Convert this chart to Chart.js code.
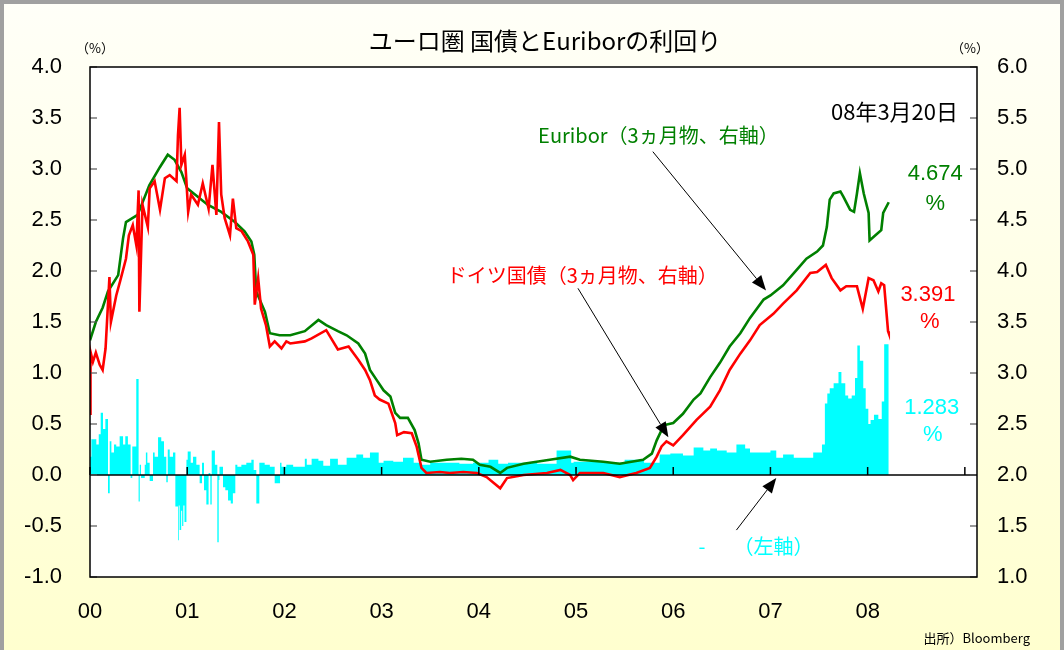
<!DOCTYPE html>
<html lang="ja">
<head>
<meta charset="utf-8">
<script src="https://cdn.jsdelivr.net/npm/chart.js@4/dist/chart.umd.min.js"></script>
<style>
  html, body { margin: 0; padding: 0; }
  #wrap { position: relative; width: 1064px; height: 650px; overflow: hidden;
          background: linear-gradient(#fffff8, #ffffcf); }
  #frame { position: absolute; left: 0; top: 0; width: 1064px; height: 650px; box-sizing: border-box;
           border: 4px solid #a0a0a0; border-bottom: 0; pointer-events: none; }
  canvas { position: absolute; left: 0; top: 0; }
</style>
</head>
<body>
<div id="wrap">
  <canvas id="chart" width="1064" height="650"></canvas>
  <div id="frame"></div>
</div>
<script>
// 年（小数）と値 ― 画像から読み取り
const yearTicks = [2000, 2001, 2002, 2003, 2004, 2005, 2006, 2007, 2008, 2009];
const yearLabels = ['00', '01', '02', '03', '04', '05', '06', '07', '08', ''];

// Euribor 3ヵ月物（右軸）
const euriborX = [2000.00, 2000.06, 2000.13, 2000.185, 2000.29, 2000.34, 2000.37, 2000.49, 2000.61, 2000.72,
  2000.80, 2000.87, 2000.94, 2001.00, 2001.08, 2001.21, 2001.35, 2001.49, 2001.59, 2001.66,
  2001.69, 2001.71, 2001.80, 2001.85, 2001.95, 2002.06, 2002.21, 2002.35, 2002.43, 2002.55,
  2002.64, 2002.76, 2002.83, 2002.88, 2002.95, 2003.02, 2003.09, 2003.14, 2003.19, 2003.27,
  2003.34, 2003.38, 2003.41, 2003.50, 2003.67, 2003.82, 2003.94, 2004.01, 2004.12, 2004.22,
  2004.29, 2004.46, 2004.73, 2004.94, 2005.04, 2005.28, 2005.45, 2005.69, 2005.78, 2005.83,
  2005.88, 2005.91, 2006.00, 2006.10, 2006.21, 2006.28, 2006.38, 2006.48, 2006.58, 2006.69,
  2006.79, 2006.93, 2007.00, 2007.13, 2007.27, 2007.37, 2007.48, 2007.54, 2007.58, 2007.61,
  2007.65, 2007.72, 2007.75, 2007.82, 2007.86, 2007.89, 2007.92, 2007.96, 2008.01, 2008.02,
  2008.08, 2008.14, 2008.16, 2008.217];
const euriborY = [3.32, 3.50, 3.64, 3.80, 3.96, 4.32, 4.48, 4.55, 4.84, 5.02,
  5.14, 5.09, 4.97, 4.81, 4.75, 4.65, 4.58, 4.48, 4.39, 4.29,
  4.16, 3.80, 3.60, 3.39, 3.37, 3.37, 3.41, 3.52, 3.47, 3.41,
  3.37, 3.29, 3.19, 3.03, 2.93, 2.83, 2.77, 2.61, 2.56, 2.56,
  2.44, 2.31, 2.15, 2.13, 2.15, 2.16, 2.15, 2.10, 2.08, 2.02,
  2.07, 2.11, 2.15, 2.18, 2.15, 2.13, 2.11, 2.15, 2.21, 2.34,
  2.44, 2.49, 2.51, 2.60, 2.74, 2.80, 2.96, 3.10, 3.26, 3.39,
  3.54, 3.72, 3.76, 3.86, 4.01, 4.12, 4.19, 4.25, 4.43, 4.70,
  4.76, 4.78, 4.73, 4.60, 4.58, 4.76, 4.96, 4.76, 4.57, 4.30,
  4.35, 4.40, 4.57, 4.674];

// ドイツ国債 3ヵ月物（右軸）
const bundX = [2000.00, 2000.005, 2000.03, 2000.06, 2000.10, 2000.13, 2000.16, 2000.20, 2000.215, 2000.27,
  2000.31, 2000.37, 2000.40, 2000.44, 2000.477, 2000.50, 2000.508, 2000.54, 2000.595, 2000.614,
  2000.665, 2000.72, 2000.77, 2000.82, 2000.89, 2000.905, 2000.922, 2000.94, 2000.975, 2000.99,
  2001.01, 2001.04, 2001.11, 2001.16, 2001.22, 2001.26, 2001.30, 2001.327, 2001.35, 2001.385,
  2001.44, 2001.47, 2001.505, 2001.56, 2001.625, 2001.68, 2001.695, 2001.73, 2001.76, 2001.81,
  2001.85, 2001.90, 2001.97, 2002.02, 2002.06, 2002.21, 2002.28, 2002.43, 2002.55, 2002.66,
  2002.76, 2002.83, 2002.88, 2002.93, 2002.98, 2003.07, 2003.14, 2003.16, 2003.23, 2003.31,
  2003.36, 2003.41, 2003.46, 2003.60, 2003.70, 2003.84, 2003.98, 2004.08, 2004.22, 2004.29,
  2004.46, 2004.70, 2004.84, 2004.94, 2004.97, 2005.04, 2005.28, 2005.45, 2005.62, 2005.76,
  2005.83, 2005.88, 2005.93, 2006.00, 2006.10, 2006.24, 2006.38, 2006.48, 2006.58, 2006.69,
  2006.79, 2006.89, 2007.03, 2007.13, 2007.27, 2007.41, 2007.48, 2007.57, 2007.63, 2007.72,
  2007.78, 2007.89, 2007.95, 2007.98, 2008.01, 2008.06, 2008.11, 2008.14, 2008.17, 2008.21,
  2008.217];
const bundY = [2.60, 3.21, 3.11, 3.20, 3.08, 3.03, 3.24, 3.94, 3.50, 3.76,
  3.90, 4.12, 4.35, 4.45, 4.25, 4.79, 3.60, 4.65, 4.43, 4.81,
  4.88, 4.60, 4.91, 4.94, 4.88, 5.33, 5.60, 5.04, 5.14, 4.91,
  4.58, 4.75, 4.65, 4.86, 4.61, 5.04, 4.55, 5.46, 4.75, 4.52,
  4.35, 4.71, 4.42, 4.39, 4.29, 4.16, 3.67, 3.93, 3.63, 3.47,
  3.26, 3.31, 3.24, 3.31, 3.29, 3.31, 3.34, 3.42, 3.23, 3.26,
  3.13, 3.03, 2.93, 2.78, 2.74, 2.70, 2.51, 2.39, 2.42, 2.41,
  2.28, 2.07, 2.02, 2.03, 2.02, 2.03, 2.02, 1.98, 1.87, 1.97,
  2.00, 2.02, 2.05, 2.00, 1.95, 2.02, 2.02, 1.98, 2.02, 2.07,
  2.18, 2.28, 2.33, 2.29, 2.39, 2.54, 2.67, 2.83, 3.03, 3.19,
  3.32, 3.47, 3.58, 3.68, 3.81, 3.98, 3.99, 4.06, 3.93, 3.81,
  3.85, 3.85, 3.63, 3.78, 3.93, 3.91, 3.80, 3.88, 3.86, 3.41,
  3.391];

// スプレッド（左軸）
const spreadX = [2000.000, 2000.014, 2000.040, 2000.065, 2000.090, 2000.110, 2000.134, 2000.158, 2000.185, 2000.203,
  2000.220, 2000.247, 2000.270, 2000.305, 2000.340, 2000.363, 2000.390, 2000.418, 2000.435, 2000.452,
  2000.476, 2000.500, 2000.512, 2000.525, 2000.563, 2000.575, 2000.590, 2000.614, 2000.648, 2000.665,
  2000.700, 2000.733, 2000.761, 2000.785, 2000.800, 2000.820, 2000.854, 2000.878, 2000.905, 2000.913,
  2000.922, 2000.938, 2000.948, 2000.960, 2000.972, 2000.992, 2001.005, 2001.036, 2001.060, 2001.094,
  2001.128, 2001.152, 2001.173, 2001.197, 2001.220, 2001.238, 2001.252, 2001.285, 2001.310, 2001.324,
  2001.332, 2001.368, 2001.392, 2001.420, 2001.448, 2001.470, 2001.495, 2001.516, 2001.557, 2001.608,
  2001.660, 2001.684, 2001.711, 2001.742, 2001.752, 2001.797, 2001.850, 2001.900, 2001.955, 2001.970,
  2002.020, 2002.090, 2002.210, 2002.230, 2002.280, 2002.350, 2002.400, 2002.470, 2002.550, 2002.640,
  2002.740, 2002.810, 2002.880, 2002.970, 2003.020, 2003.120, 2003.220, 2003.330, 2003.400, 2003.500,
  2003.670, 2003.800, 2003.940, 2004.100, 2004.200, 2004.300, 2004.600, 2004.800, 2004.950, 2004.975,
  2005.300, 2005.500, 2005.700, 2005.860, 2005.970, 2006.100, 2006.210, 2006.310, 2006.380, 2006.450,
  2006.550, 2006.650, 2006.740, 2006.790, 2006.890, 2007.000, 2007.060, 2007.130, 2007.240, 2007.340,
  2007.440, 2007.530, 2007.560, 2007.585, 2007.610, 2007.650, 2007.700, 2007.730, 2007.770, 2007.800,
  2007.836, 2007.870, 2007.894, 2007.920, 2007.955, 2007.980, 2008.007, 2008.030, 2008.065, 2008.110,
  2008.145, 2008.170, 2008.190, 2008.217];
const spreadY = [0.51, 0.18, 0.35, 0.35, 0.30, 0.40, 0.61, 0.45, 0.55, -0.18,
  0.33, 0.22, 0.30, 0.28, 0.38, 0.30, 0.38, 0.30, -0.03, 0.28,
  0.28, 0.94, -0.26, 0.10, -0.03, 0.10, 0.22, 0.12, -0.06, 0.22,
  0.18, 0.37, 0.33, 0.18, -0.07, 0.25, 0.18, 0.22, -0.31, -0.64,
  -0.30, -0.54, -0.35, -0.50, -0.30, -0.46, 0.15, 0.23, 0.12, 0.18,
  0.10, -0.08, 0.12, -0.15, -0.29, 0.02, -0.29, 0.24, 0.10, -0.66,
  -0.05, 0.08, -0.12, -0.15, -0.25, -0.28, -0.18, 0.10, 0.08, 0.10,
  0.12, 0.15, 0.05, -0.28, 0.12, 0.12, 0.10, 0.08, -0.08, 0.12,
  0.08, 0.10, 0.08, 0.16, 0.10, 0.16, 0.14, 0.09, 0.16, 0.10,
  0.17, 0.20, 0.17, 0.22, 0.12, 0.14, 0.13, 0.17, 0.12, 0.10,
  0.12, 0.12, 0.11, 0.12, 0.15, 0.11, 0.12, 0.11, 0.24, 0.12,
  0.13, 0.12, 0.15, 0.12, 0.20, 0.21, 0.19, 0.27, 0.24, 0.26,
  0.24, 0.22, 0.30, 0.26, 0.22, 0.22, 0.24, 0.17, 0.20, 0.17,
  0.17, 0.22, 0.30, 0.70, 0.80, 0.85, 0.90, 1.01, 0.90, 0.78,
  0.75, 0.78, 0.95, 1.27, 1.12, 0.85, 0.65, 0.50, 0.54, 0.59,
  0.55, 0.72, 1.283, 1.283];

const toPoints = (xs, ys) => xs.map((x, i) => ({ x: x, y: ys[i] }));

const numFont = { family: '"Liberation Sans Narrow", "Liberation Sans", Arial, sans-serif', size: 22 };
const jpFont = '"Noto Sans CJK JP", "Noto Sans", sans-serif';

const framePlugin = {
  id: 'frame',
  beforeDatasetsDraw(chart) {
    const a = chart.chartArea, ctx = chart.ctx;
    ctx.save();
    ctx.fillStyle = '#ffffff';
    ctx.fillRect(a.left, a.top, a.right - a.left, a.bottom - a.top);
    ctx.restore();
  },
  afterDatasetsDraw(chart) {
    const a = chart.chartArea, ctx = chart.ctx;
    const sy = chart.scales.y, sy1 = chart.scales.y1, sx = chart.scales.x;
    ctx.save();
    // 0 のライン
    const y0 = sy.getPixelForValue(0);
    ctx.strokeStyle = '#000';
    ctx.lineWidth = 1.5;
    ctx.beginPath();
    ctx.moveTo(a.left, y0); ctx.lineTo(a.right, y0);
    ctx.stroke();
    // 年の目盛り（0 のライン上）
    yearTicks.forEach(v => {
      const x = sx.getPixelForValue(v);
      ctx.beginPath();
      ctx.moveTo(x, y0); ctx.lineTo(x, y0 - 8);
      ctx.stroke();
    });
    // 左右の目盛り（内側）
    ctx.strokeStyle = '#555';
    ctx.lineWidth = 1.2;
    sy.ticks.forEach(t => {
      const y = sy.getPixelForValue(t.value);
      ctx.beginPath(); ctx.moveTo(a.left, y); ctx.lineTo(a.left + 7, y); ctx.stroke();
    });
    sy1.ticks.forEach(t => {
      const y = sy1.getPixelForValue(t.value);
      ctx.beginPath(); ctx.moveTo(a.right - 7, y); ctx.lineTo(a.right, y); ctx.stroke();
    });
    // 枠
    ctx.strokeStyle = '#000';
    ctx.lineWidth = 1.5;
    ctx.strokeRect(a.left, a.top, a.right - a.left, a.bottom - a.top);
    ctx.restore();
  }
};

function arrow(ctx, x1, y1, x2, y2) {
  const ang = Math.atan2(y2 - y1, x2 - x1);
  const len = 15, w = 6;
  ctx.beginPath();
  ctx.moveTo(x1, y1);
  ctx.lineTo(x2 - Math.cos(ang) * len, y2 - Math.sin(ang) * len);
  ctx.stroke();
  ctx.beginPath();
  ctx.moveTo(x2, y2);
  ctx.lineTo(x2 - Math.cos(ang) * len - Math.sin(ang) * w, y2 - Math.sin(ang) * len + Math.cos(ang) * w);
  ctx.lineTo(x2 - Math.cos(ang) * len + Math.sin(ang) * w, y2 - Math.sin(ang) * len - Math.cos(ang) * w);
  ctx.closePath();
  ctx.fill();
}

// 注記（位置は軸の値で指定）
const labelPlugin = {
  id: 'labels',
  afterDraw(chart) {
    const ctx = chart.ctx;
    const sx = chart.scales.x, sy = chart.scales.y, sy1 = chart.scales.y1;
    const X = v => sx.getPixelForValue(v);
    const R = v => sy1.getPixelForValue(v);
    const L = v => sy.getPixelForValue(v);
    ctx.save();
    ctx.textBaseline = 'middle';

    // タイトル
    ctx.fillStyle = '#000';
    ctx.textAlign = 'center';
    ctx.font = '24px ' + jpFont;
    ctx.fillText('ユーロ圏 国債とEuriborの利回り', 545, 41);
    ctx.font = '13px ' + jpFont;
    ctx.fillText('（%）', 95, 48);
    ctx.fillText('（%）', 970, 48);
    ctx.textAlign = 'right';
    ctx.fillText('出所）Bloomberg', 1030, 638);

    // 日付
    ctx.font = '22px ' + jpFont;
    ctx.fillText('08年3月20日', X(2008.93), R(5.56));

    // 系列ラベル
    ctx.textAlign = 'left';
    ctx.font = '20px ' + jpFont;
    ctx.fillStyle = '#008000';
    ctx.fillText('Euribor（3ヵ月物、右軸）', X(2004.61), R(5.33));
    ctx.fillStyle = '#ff0000';
    ctx.fillText('ドイツ国債（3ヵ月物、右軸）', X(2003.67), R(3.96));
    ctx.fillStyle = '#00ffff';
    ctx.fillText('-', X(2006.26), L(-0.70));
    ctx.fillText('（左軸）', X(2006.62), L(-0.70));

    // 最新値
    ctx.textAlign = 'center';
    ctx.font = '22px "Liberation Sans", Arial, sans-serif';
    ctx.fillStyle = '#008000';
    ctx.fillText('4.674', X(2008.695), R(4.95));
    ctx.fillText('%', X(2008.695), R(4.66));
    ctx.fillStyle = '#ff0000';
    ctx.fillText('3.391', X(2008.62), R(3.77));
    ctx.fillText('%', X(2008.64), R(3.50));
    ctx.fillStyle = '#00ffff';
    ctx.fillText('1.283', X(2008.66), L(0.66));
    ctx.fillText('%', X(2008.67), L(0.39));

    // 矢印
    ctx.strokeStyle = '#000';
    ctx.fillStyle = '#000';
    ctx.lineWidth = 1;
    arrow(ctx, X(2005.79), R(5.17), X(2006.955), R(3.81));
    arrow(ctx, X(2005.02), R(3.83), X(2005.95), R(2.37));
    arrow(ctx, X(2006.65), L(-0.54), X(2007.06), L(-0.03));
    ctx.restore();
  }
};

new Chart(document.getElementById('chart'), {
  data: {
    datasets: [
      {
        type: 'line',
        label: 'ドイツ国債（3ヵ月物）',
        data: toPoints(bundX, bundY),
        yAxisID: 'y1',
        borderColor: '#ff0000',
        borderWidth: 2.6,
        pointRadius: 0,
        tension: 0,
        order: 1
      },
      {
        type: 'line',
        label: 'Euribor（3ヵ月物）',
        data: toPoints(euriborX, euriborY),
        yAxisID: 'y1',
        borderColor: '#008000',
        borderWidth: 2.6,
        pointRadius: 0,
        tension: 0,
        order: 2
      },
      {
        type: 'line',
        label: 'スプレッド',
        data: toPoints(spreadX, spreadY),
        yAxisID: 'y',
        stepped: 'after',
        fill: 'origin',
        backgroundColor: '#00ffff',
        borderColor: 'rgba(0,0,0,0)',
        borderWidth: 0,
        pointRadius: 0,
        order: 3
      }
    ]
  },
  options: {
    responsive: false,
    animation: false,
    events: [],
    layout: { padding: { top: 67, left: 0, right: 0, bottom: 0 } },
    plugins: { legend: { display: false }, tooltip: { enabled: false } },
    scales: {
      x: {
        type: 'linear',
        min: 2000,
        max: 2009.125,
        afterBuildTicks: s => { s.ticks = yearTicks.map(v => ({ value: v })); },
        afterFit: s => { s.height = 73; },
        ticks: {
          autoSkip: false,
          maxRotation: 0,
          padding: 22,
          color: '#000',
          font: numFont,
          callback: (v, i) => yearLabels[i]
        },
        grid: { display: false, drawTicks: false },
        border: { display: false }
      },
      y: {
        position: 'left',
        min: -1,
        max: 4,
        afterFit: s => { s.width = 90; },
        ticks: { stepSize: 0.5, padding: 28, color: '#000', font: numFont, callback: v => v.toFixed(1) },
        grid: { display: false, drawTicks: false },
        border: { display: false }
      },
      y1: {
        position: 'right',
        min: 1,
        max: 6,
        afterFit: s => { s.width = 87; },
        ticks: { stepSize: 0.5, padding: 20, color: '#000', font: numFont, callback: v => v.toFixed(1) },
        grid: { display: false, drawTicks: false },
        border: { display: false }
      }
    }
  },
  plugins: [framePlugin, labelPlugin]
});
</script>
</body>
</html>
